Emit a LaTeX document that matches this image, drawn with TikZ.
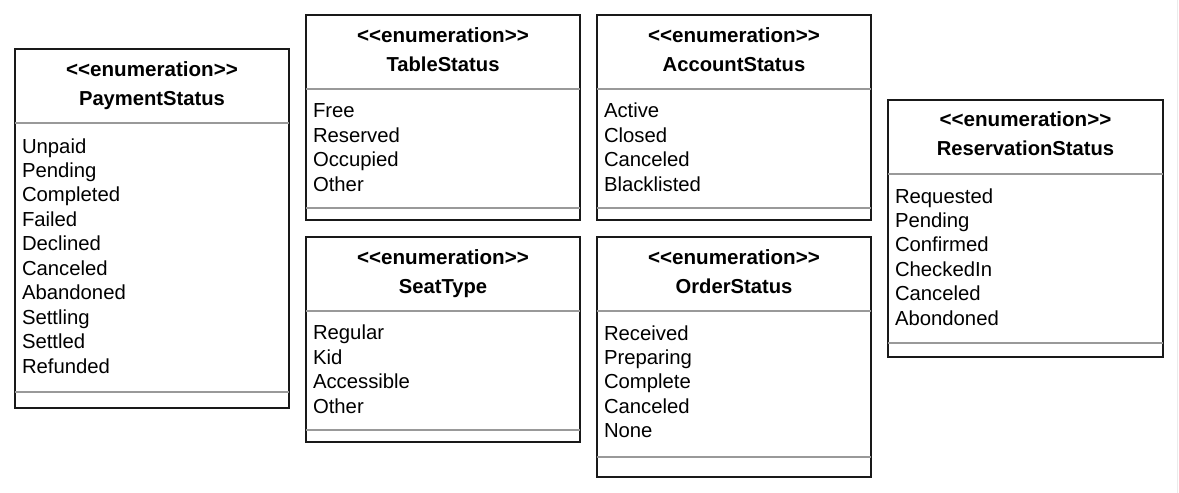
\documentclass[tikz,border=0pt]{standalone}
\usepackage{fontspec}
\setmainfont{Liberation Sans}
\usetikzlibrary{positioning, calc}
\tikzset{
  enumdiagram/.style={
	x=1pt, y=-1pt, % pixel-like units, y pointing down
	inner sep=0pt, outer sep=0pt,
  },
  enumbox/.style={draw=black!90, line width=1.6pt, anchor=north west}, % outer frame of a class
  sepline/.style={draw=black!40, line width=1.6pt}, % compartment separator
  stereo/.style={font=\bfseries\fontsize{20.6}{22}\selectfont, anchor=base},
  classname/.style={font=\bfseries\fontsize{20.2}{22}\selectfont, anchor=base},
  literals/.style={font=\fontsize{20.3}{24.44}\selectfont, align=left, anchor=base west}, % base = last line
}

\begin{document}
\begin{tikzpicture}[enumdiagram]
\useasboundingbox (0,0) rectangle (1179,493);
\draw[black!8, line width=1pt] (1177.5,0) -- (1177.5,493);

% PaymentStatus
\node[enumbox, minimum width=274pt, minimum height=359pt] (payment) at (15,49) {};
\node[stereo] (paymentstereo) at ([yshift=-27pt]payment.north) {<{}<enumeration>{}>};
\node[classname] (paymentname) at ([yshift=-56pt]payment.north) {PaymentStatus};
\node[literals] (paymentlits) at ([xshift=7pt, yshift=-324pt]payment.north west)
	{Unpaid\\Pending\\Completed\\Failed\\Declined\\Canceled\\Abandoned\\Settling\\Settled\\Refunded};
\draw[sepline] ([yshift=-74pt]payment.north west) -- ([yshift=-74pt]payment.north east);
\draw[sepline] ([yshift=16pt]payment.south west) -- ([yshift=16pt]payment.south east);

% TableStatus
\node[enumbox, minimum width=274pt, minimum height=205pt] (table) at (306,15) {};
\node[stereo] (tablestereo) at ([yshift=-27pt]table.north) {<{}<enumeration>{}>};
\node[classname] (tablename) at ([yshift=-56pt]table.north) {TableStatus};
\node[literals] (tablelits) at ([xshift=7pt, yshift=-176.3pt]table.north west)
	{Free\\Reserved\\Occupied\\Other};
\draw[sepline] ([yshift=-74pt]table.north west) -- ([yshift=-74pt]table.north east);
\draw[sepline] ([yshift=12pt]table.south west) -- ([yshift=12pt]table.south east);

% AccountStatus
\node[enumbox, minimum width=274pt, minimum height=205pt] (account) at (597,15) {};
\node[stereo] (accountstereo) at ([yshift=-27pt]account.north) {<{}<enumeration>{}>};
\node[classname] (accountname) at ([yshift=-56pt]account.north) {AccountStatus};
\node[literals] (accountlits) at ([xshift=7pt, yshift=-176.3pt]account.north west)
	{Active\\Closed\\Canceled\\Blacklisted};
\draw[sepline] ([yshift=-74pt]account.north west) -- ([yshift=-74pt]account.north east);
\draw[sepline] ([yshift=12pt]account.south west) -- ([yshift=12pt]account.south east);

% SeatType
\node[enumbox, minimum width=274pt, minimum height=205pt] (seat) at (306,237) {};
\node[stereo] (seatstereo) at ([yshift=-27pt]seat.north) {<{}<enumeration>{}>};
\node[classname] (seatname) at ([yshift=-56pt]seat.north) {SeatType};
\node[literals] (seatlits) at ([xshift=7pt, yshift=-176.3pt]seat.north west)
	{Regular\\Kid\\Accessible\\Other};
\draw[sepline] ([yshift=-74pt]seat.north west) -- ([yshift=-74pt]seat.north east);
\draw[sepline] ([yshift=12pt]seat.south west) -- ([yshift=12pt]seat.south east);

% OrderStatus
\node[enumbox, minimum width=274pt, minimum height=240pt] (order) at (597,237) {};
\node[stereo] (orderstereo) at ([yshift=-27pt]order.north) {<{}<enumeration>{}>};
\node[classname] (ordername) at ([yshift=-56pt]order.north) {OrderStatus};
\node[literals] (orderlits) at ([xshift=7pt, yshift=-200.8pt]order.north west)
	{Received\\Preparing\\Complete\\Canceled\\None};
\draw[sepline] ([yshift=-74pt]order.north west) -- ([yshift=-74pt]order.north east);
\draw[sepline] ([yshift=20pt]order.south west) -- ([yshift=20pt]order.south east);

% ReservationStatus
\node[enumbox, minimum width=275pt, minimum height=257pt] (reservation) at (888,100) {};
\node[stereo] (reservationstereo) at ([yshift=-26pt]reservation.north) {<{}<enumeration>{}>};
\node[classname] (reservationname) at ([yshift=-55pt]reservation.north) {ReservationStatus};
\node[literals] (reservationlits) at ([xshift=7pt, yshift=-225.2pt]reservation.north west)
	{Requested\\Pending\\Confirmed\\CheckedIn\\Canceled\\Abondoned};
\draw[sepline] ([yshift=-74pt]reservation.north west) -- ([yshift=-74pt]reservation.north east);
\draw[sepline] ([yshift=14pt]reservation.south west) -- ([yshift=14pt]reservation.south east);
\end{tikzpicture}
\end{document}
